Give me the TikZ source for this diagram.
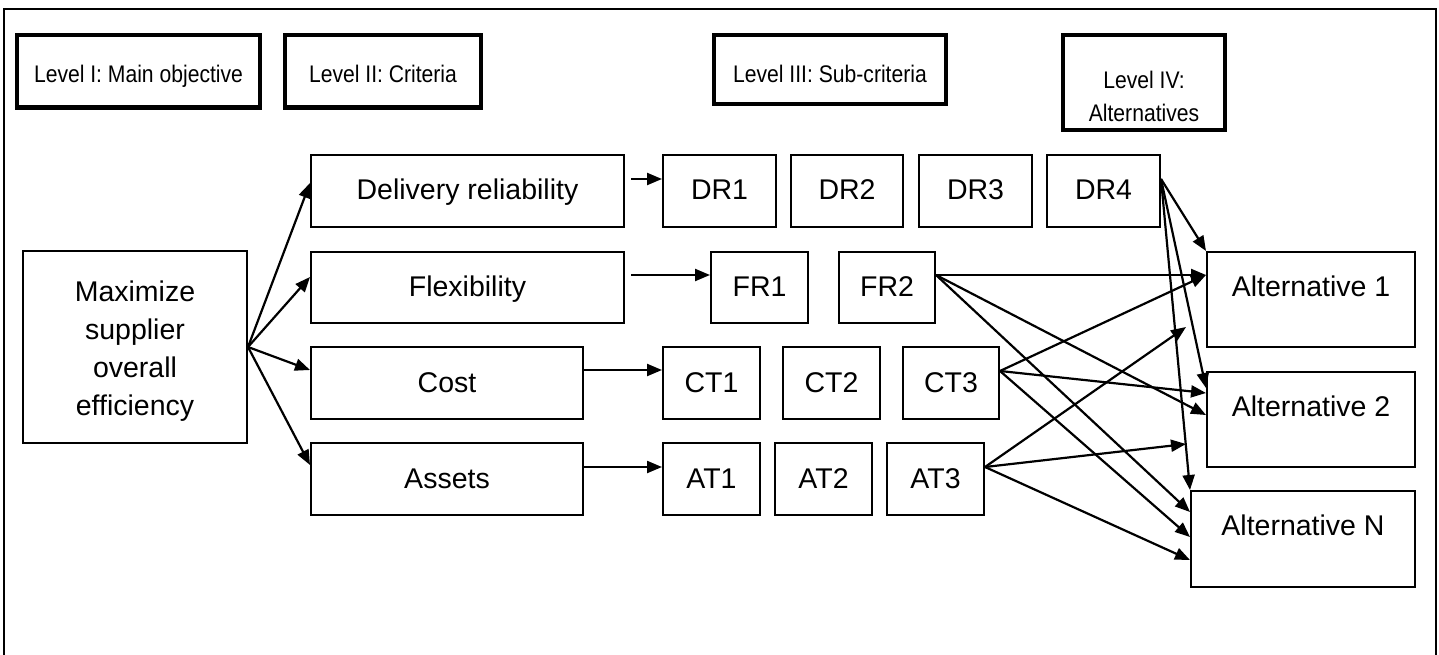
\documentclass[tikz,border=0pt]{standalone}
\usepackage{fontspec}
\setmainfont{Liberation Sans}
\newfontfamily\hdrfont[FakeStretch=0.88]{Liberation Sans}
\usetikzlibrary{arrows.meta}
\begin{document}
\begin{tikzpicture}[x=1pt,y=-1pt,
  box/.style={draw, line width=2pt, inner sep=0pt, font=\fontsize{28.5}{38}\selectfont, align=center},
  one/.style={box, text height=21pt, text depth=3pt},
  sub/.style={one, minimum height=72pt},
  alt/.style={box, text height=21pt, text depth=27.6pt, minimum width=208pt, minimum height=95pt},
  hdr/.style={draw, line width=4.5pt, inner sep=0pt, font=\hdrfont\fontsize{24}{33}\selectfont},
  hdrone/.style={hdr, text height=24pt, text depth=2pt},
  arr/.style={line width=2.2pt, -{Triangle[length=15pt,width=12pt]}}]
\useasboundingbox (0,0) rectangle (1439,655);
% outer frame
\draw[line width=2pt] (4,660) -- (4,9) -- (1436,9) -- (1436,660);
% level headers
\node[hdrone, minimum width=243pt, minimum height=72.5pt] (h1) at (138.5,71.25) {Level I: Main objective};
\node[hdrone, minimum width=196pt, minimum height=72.5pt] (h2) at (383,71.25) {Level II: Criteria};
\node[hdr, text height=27.6pt, text depth=2pt, minimum width=232pt, minimum height=69pt] (h3) at (830,69.5) {Level III: Sub-criteria};
\node[hdr, minimum width=162pt, minimum height=95pt] (h4) at (1144,82.5)
  {\raisebox{-16pt}[\height][\depth]{\begin{tabular}{@{}c@{}}Level IV:\\Alternatives\end{tabular}}};
% level I
\node[box, minimum width=224pt, minimum height=192pt] (max) at (135,347)
  {\raisebox{-4pt}[\height][\depth]{\begin{tabular}{@{}c@{}}Maximize\\supplier\\overall\\efficiency\end{tabular}}};
% level II
\node[one, minimum width=313pt, minimum height=72pt] (dr) at (467.5,191) {Delivery reliability};
\node[one, minimum width=313pt, minimum height=71pt] (fl) at (467.5,287.5) {Flexibility};
\node[one, minimum width=272pt, minimum height=72pt] (co) at (447,383) {Cost};
\node[one, minimum width=272pt, minimum height=72pt] (as) at (447,479) {Assets};
% level III
\node[sub, minimum width=113pt] (dr1) at (719.5,191) {DR1};
\node[sub, minimum width=112pt] (dr2) at (847,191) {DR2};
\node[sub, minimum width=113pt] (dr3) at (975.5,191) {DR3};
\node[sub, minimum width=113pt] (dr4) at (1103.5,191) {DR4};
\node[one, minimum width=97pt, minimum height=71pt] (fr1) at (759.5,287.5) {FR1};
\node[one, minimum width=96pt, minimum height=71pt] (fr2) at (887,287.5) {FR2};
\node[sub, minimum width=97pt] (ct1) at (711.5,383) {CT1};
\node[sub, minimum width=97pt] (ct2) at (831.5,383) {CT2};
\node[sub, minimum width=96pt] (ct3) at (951,383) {CT3};
\node[sub, minimum width=97pt] (at1) at (711.5,479) {AT1};
\node[sub, minimum width=97pt] (at2) at (823.5,479) {AT2};
\node[sub, minimum width=97pt] (at3) at (935.5,479) {AT3};
% level IV
\node[alt] (a1) at (1311,299.5) {Alternative 1};
\node[alt] (a2) at (1311,419.5) {Alternative 2};
\node[alt, minimum width=224pt, minimum height=96pt] (an) at (1303,539) {Alternative N};
% level I -> II
\draw[arr] (max.east) -- ([yshift=8pt]dr.west);
\draw[arr] (max.east) -- ([yshift=10.5pt]fl.west);
\draw[arr] (max.east) -- ([yshift=13pt]co.west);
\draw[arr] (max.east) -- ([yshift=14pt]as.west);
% level II -> III
\draw[arr] ([xshift=6pt,yshift=12pt]dr.east) -- ([yshift=12pt]dr1.west);
\draw[arr] ([xshift=6pt,yshift=12.5pt]fl.east) -- ([yshift=12.5pt]fr1.west);
\draw[arr] ([yshift=13pt]co.east) -- ([yshift=13pt]ct1.west);
\draw[arr] ([yshift=12pt]as.east) -- ([yshift=12pt]at1.west);
% level III -> IV
\draw[arr] ([yshift=12pt]dr4.east) -- (a1.north west);
\draw[arr] ([yshift=12pt]dr4.east) -- ([yshift=31.5pt]a2.west);
\draw[arr] ([yshift=12pt]dr4.east) -- (an.north west);
\draw[arr] ([yshift=12.5pt]fr2.east) -- ([yshift=24.5pt]a1.west);
\draw[arr] ([yshift=12.5pt]fr2.east) -- ([yshift=4.5pt]a2.west);
\draw[arr] ([yshift=12.5pt]fr2.east) -- ([yshift=27pt]an.west);
\draw[arr] ([yshift=12pt]ct3.east) -- ([yshift=24.5pt]a1.west);
\draw[arr] ([yshift=12pt]ct3.east) -- ([yshift=26.5pt]a2.west);
\draw[arr] ([yshift=12pt]ct3.east) -- ([yshift=2pt]an.west);
\draw[arr] ([yshift=12pt]at3.east) -- ([xshift=-20pt,yshift=-27.5pt]a1.west);
\draw[arr] ([yshift=12pt]at3.east) -- ([xshift=-20pt,yshift=-24.5pt]a2.west);
\draw[arr] ([yshift=12pt]at3.east) -- ([yshift=-21pt]an.west);
\end{tikzpicture}
\end{document}
